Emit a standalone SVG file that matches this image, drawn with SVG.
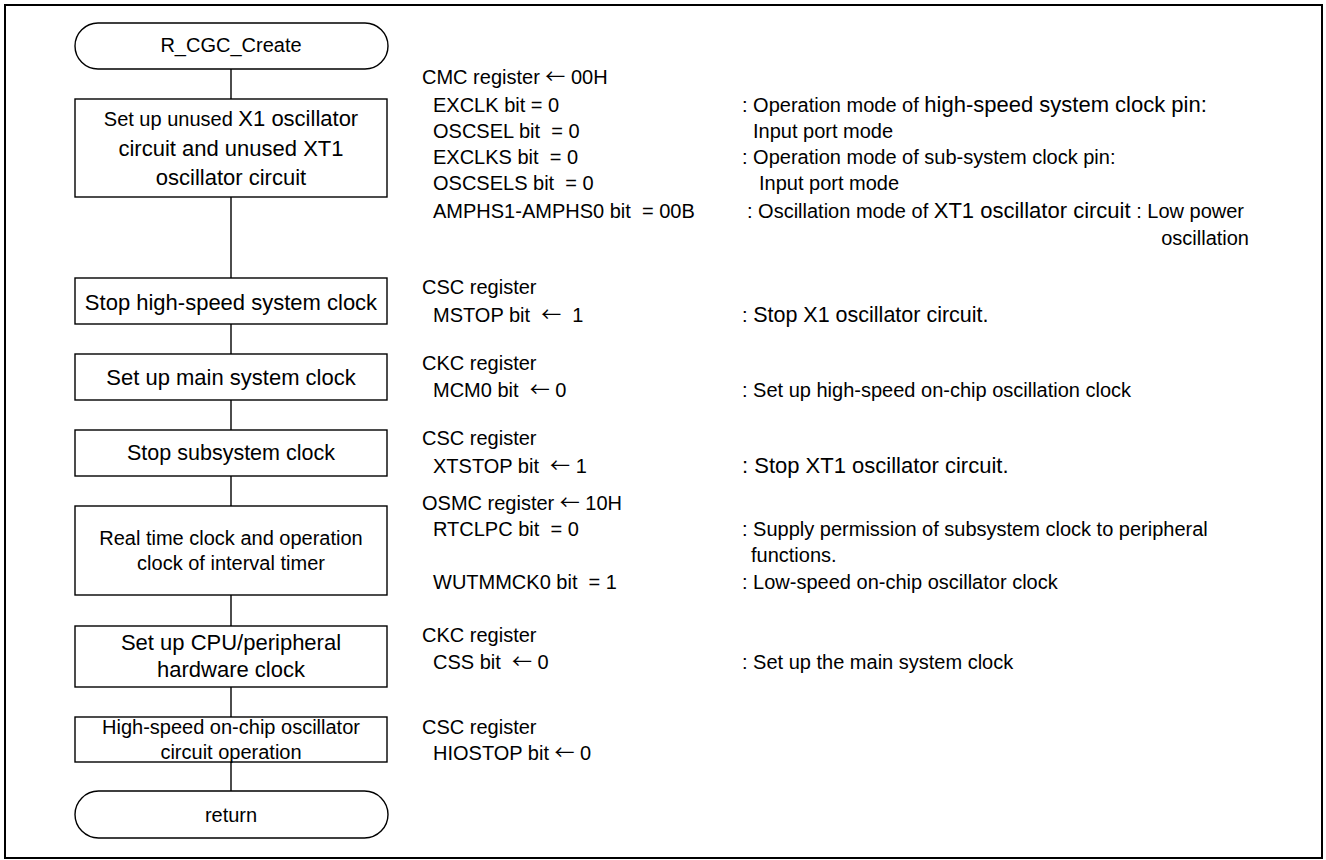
<svg xmlns="http://www.w3.org/2000/svg" width="1326" height="860" viewBox="0 0 1326 860">
<style>
text{font-family:"Liberation Sans",Arial,sans-serif;font-size:20px;fill:#000;white-space:pre}
.c{text-anchor:middle}
.b{font-size:22px}
.lg{font-size:22px}
.ar{font-family:"Noto Sans CJK JP","Liberation Sans",sans-serif}
.shape{fill:#fff;stroke:#000;stroke-width:1.4}
.conn line{stroke:#000;stroke-width:1.4}
</style>
<rect x="5" y="5" width="1317" height="853" fill="#fff" stroke="#000" stroke-width="2"/>
<g class="conn" id="connectors">
<line x1="231" y1="69" x2="231" y2="99"/>
<line x1="231" y1="197" x2="231" y2="278"/>
<line x1="231" y1="324" x2="231" y2="354"/>
<line x1="231" y1="400" x2="231" y2="430"/>
<line x1="231" y1="476" x2="231" y2="506"/>
<line x1="231" y1="595" x2="231" y2="626"/>
<line x1="231" y1="687" x2="231" y2="717"/>
<line x1="231" y1="762" x2="231" y2="791"/>
</g>
<g id="start">
<rect class="shape" x="75" y="23" width="313" height="46" rx="23" ry="23"/>
<text class="c" x="231" y="52">R_CGC_Create</text>
</g>
<g id="n1">
<rect class="shape" x="75" y="99" width="312" height="98"/>
<text class="c" x="231" y="126">Set up unused <tspan class="lg">X1 oscillator</tspan></text>
<text class="c b" x="231" y="156">circuit and unused XT1</text>
<text class="c b" x="231" y="185">oscillator circuit</text>
</g>
<g id="n2">
<rect class="shape" x="75" y="278" width="312" height="46"/>
<text class="c b" x="231" y="310">Stop high-speed system clock</text>
</g>
<g id="n3">
<rect class="shape" x="75" y="354" width="312" height="46"/>
<text class="c b" x="231" y="385">Set up main system clock</text>
</g>
<g id="n4">
<rect class="shape" x="75" y="430" width="312" height="46"/>
<text class="c" x="231" y="460" style="font-size:21.5px">Stop subsystem clock</text>
</g>
<g id="n5">
<rect class="shape" x="75" y="506" width="312" height="89"/>
<text class="c" x="231" y="545">Real time clock and operation</text>
<text class="c" x="231" y="570">clock of interval timer</text>
</g>
<g id="n6">
<rect class="shape" x="75" y="626" width="312" height="61"/>
<text class="c b" x="231" y="650">Set up CPU/peripheral</text>
<text class="c b" x="231" y="677">hardware clock</text>
</g>
<g id="n7">
<rect class="shape" x="75" y="717" width="312" height="45"/>
<text class="c" x="231" y="734">High-speed on-chip oscillator</text>
<text class="c" x="231" y="759">circuit operation</text>
</g>
<g id="end">
<rect class="shape" x="75" y="791" width="313" height="47" rx="23.5" ry="23.5"/>
<text class="c" x="231" y="822">return</text>
</g>
<g id="notes">
<text x="422" y="84">CMC register <tspan class="ar">←</tspan> 00H</text>
<text x="433" y="112">EXCLK bit = 0</text>
<text x="433" y="138">OSCSEL bit  = 0</text>
<text x="433" y="164">EXCLKS bit  = 0</text>
<text x="433" y="190">OSCSELS bit  = 0</text>
<text x="433" y="218">AMPHS1-AMPHS0 bit  = 00B</text>
<text x="742" y="112">: Operation mode of <tspan class="lg">high-speed system clock pin:</tspan></text>
<text x="753" y="138">Input port mode</text>
<text x="742" y="164">: Operation mode of sub-system clock pin:</text>
<text x="759" y="190">Input port mode</text>
<text x="747" y="218">: Oscillation mode of <tspan class="lg">XT1 oscillator circuit</tspan> : Low power</text>
<text x="1249" y="245" text-anchor="end">oscillation</text>

<text x="422" y="294">CSC register</text>
<text x="433" y="322">MSTOP bit  <tspan class="ar">←</tspan>  1</text>
<text x="742" y="322">: <tspan style="font-size:21.5px">Stop X1 oscillator circuit.</tspan></text>

<text x="422" y="370">CKC register</text>
<text x="433" y="397">MCM0 bit  <tspan class="ar">←</tspan> 0</text>
<text x="742" y="397">: Set up high-speed on-chip oscillation clock</text>

<text x="422" y="445">CSC register</text>
<text x="433" y="473">XTSTOP bit  <tspan class="ar">←</tspan> 1</text>
<text x="742" y="473" class="lg">: Stop XT1 oscillator circuit.</text>

<text x="422" y="510">OSMC register <tspan class="ar">←</tspan> 10H</text>
<text x="433" y="536">RTCLPC bit  = 0</text>
<text x="742" y="536">: Supply permission of subsystem clock to peripheral</text>
<text x="751" y="562">functions.</text>
<text x="433" y="589">WUTMMCK0 bit  = 1</text>
<text x="742" y="589">: Low-speed on-chip oscillator clock</text>

<text x="422" y="642">CKC register</text>
<text x="433" y="669">CSS bit  <tspan class="ar">←</tspan> 0</text>
<text x="742" y="669">: Set up the main system clock</text>

<text x="422" y="734">CSC register</text>
<text x="433" y="760">HIOSTOP bit <tspan class="ar">←</tspan> 0</text>
</g>
</svg>
